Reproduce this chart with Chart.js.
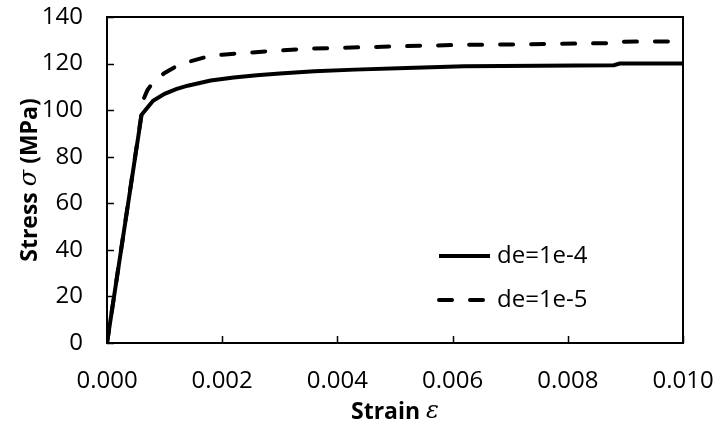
<!DOCTYPE html>
<html>
<head>
<meta charset="utf-8">
<script src="https://cdn.jsdelivr.net/npm/chart.js@4/dist/chart.umd.min.js"></script>
<style>
body{margin:0;background:#fff;}
</style>
</head>
<body>
<canvas id="myChart" width="717" height="427"></canvas>
<script>
// curve de=1e-4 (solid)
var strainA=[0,0.0006,0.0007,0.0008,0.001,0.0012,0.0014,0.0018,0.0022,0.0026,0.003,0.0036,0.0043,0.0052,0.0062,0.0075,0.0088,0.0089,0.01];
var stressA=[0,98,101,104,107,109,110.5,112.7,114,115,115.7,116.7,117.4,118.1,118.8,119.1,119.3,120,120];
// curve de=1e-5 (dashed)
var strainB=[0,0.00064,0.0007,0.0008,0.001,0.0012,0.0014,0.0017,0.002,0.0024,0.003,0.0035,0.0052,0.0063,0.007,0.0088,0.0089,0.01];
var stressB=[0,105,108.5,112,116,118.8,120.6,122.7,123.8,124.6,125.6,126.4,127.5,128.1,128.2,128.8,129.4,129.5];
var labels=['de=1e-4','de=1e-5'];
var xTicks=[0,0.002,0.004,0.006,0.008,0.010];
var yTicks=[0,20,40,60,80,100,120,140];

var font='"Open Sans", sans-serif';
var boldFont='bold 23px '+font;
var greekFont='italic 24px "DejaVu Serif", serif';

function pts(xs,ys){
	var out=[];
	for(var i=0;i<xs.length;i++) out.push({x:xs[i],y:ys[i]});
	return out;
}

// draws text made of pieces with different fonts, centred on (0,0)
function mixedText(c,parts){
	var w=0;
	parts.forEach(function(p){c.font=p[1];w+=c.measureText(p[0]).width;});
	var x=-w/2;
	c.textBaseline='middle';
	c.textAlign='left';
	parts.forEach(function(p){
		c.font=p[1];
		c.fillText(p[0],x,0);
		x+=c.measureText(p[0]).width;
	});
}

// frame box + inward tick marks + axis titles
var frame={
	id:'frame',
	afterDatasetsDraw:function(chart){
		var c=chart.ctx, a=chart.chartArea;
		c.save();
		c.strokeStyle='#000';
		c.lineWidth=2;
		c.strokeRect(a.left,a.top,a.right-a.left,a.bottom-a.top);
		c.lineWidth=1.5;
		c.beginPath();
		xTicks.forEach(function(v){
			var px=Math.round(chart.scales.x.getPixelForValue(v))+0.5;
			c.moveTo(px,a.bottom);c.lineTo(px,a.bottom-7);
		});
		yTicks.forEach(function(v){
			var py=Math.round(chart.scales.y.getPixelForValue(v))+0.5;
			c.moveTo(a.left,py);c.lineTo(a.left+7,py);
		});
		c.stroke();
		c.fillStyle='#000';
		c.save();
		c.translate((a.left+a.right)/2,412);
		mixedText(c,[['Strain ',boldFont],['\u03b5',greekFont]]);
		c.restore();
		c.save();
		c.translate(30,(a.top+a.bottom)/2);
		c.rotate(-Math.PI/2);
		mixedText(c,[['Stress ',boldFont],['\u03c3',greekFont],[' (MPa)',boldFont]]);
		c.restore();
		c.restore();
	}
};

// legend drawn inside the plot
var legendIn={
	id:'legendIn',
	afterDraw:function(chart){
		var c=chart.ctx;
		var ys=[256,300];
		c.save();
		chart.data.datasets.forEach(function(ds,i){
			c.strokeStyle='#000';
			c.lineWidth=4;
			c.lineCap=ds.borderCapStyle||'butt';
			c.setLineDash(ds.borderDash||[]);
			c.beginPath();
			c.moveTo(439,ys[i]);c.lineTo(490,ys[i]);
			c.stroke();
			c.setLineDash([]);
			c.fillStyle='#000';
			c.font='24px '+font;
			c.textBaseline='middle';
			c.fillText(ds.label,497,ys[i]);
		});
		c.restore();
	}
};

var ctx=document.getElementById('myChart');
var myChart=new Chart(ctx,{
	type:'scatter',
	data:{
		datasets:[
			{
				label:labels[0],
				data:pts(strainA,stressA),
				showLine:true,
				borderColor:'#000',
				borderWidth:4,
				pointRadius:0,
				borderCapStyle:'butt'
			},
			{
				label:labels[1],
				data:pts(strainB,stressB),
				showLine:true,
				borderColor:'#000',
				borderWidth:4,
				borderDash:[13,18],
				borderCapStyle:'round',
				pointRadius:0
			}
		]
	},
	options:{
		responsive:false,
		animation:false,
		layout:{padding:{top:17,right:34,left:0,bottom:0}},
		plugins:{legend:{display:false},tooltip:{enabled:false}},
		scales:{
			x:{
				type:'linear',
				min:0,max:0.01,
				afterFit:function(s){s.height=84;s.paddingLeft=0;s.paddingRight=0;},
				afterBuildTicks:function(s){s.ticks=xTicks.map(function(v){return {value:v};});},
				grid:{display:false,drawTicks:false},
				border:{display:false},
				ticks:{
					color:'#000',padding:24,maxRotation:0,
					font:{family:font,size:24},
					callback:function(v){return Number(v).toFixed(3);}
				}
			},
			y:{
				min:0,max:140,
				afterFit:function(s){s.width=107;s.paddingTop=0;s.paddingBottom=0;},
				afterBuildTicks:function(s){s.ticks=yTicks.map(function(v){return {value:v};});},
				grid:{display:false,drawTicks:false},
				border:{display:false},
				ticks:{color:'#000',padding:24,font:{family:font,size:24}}
			}
		}
	},
	plugins:[frame,legendIn]
});
</script>
</body>
</html>
